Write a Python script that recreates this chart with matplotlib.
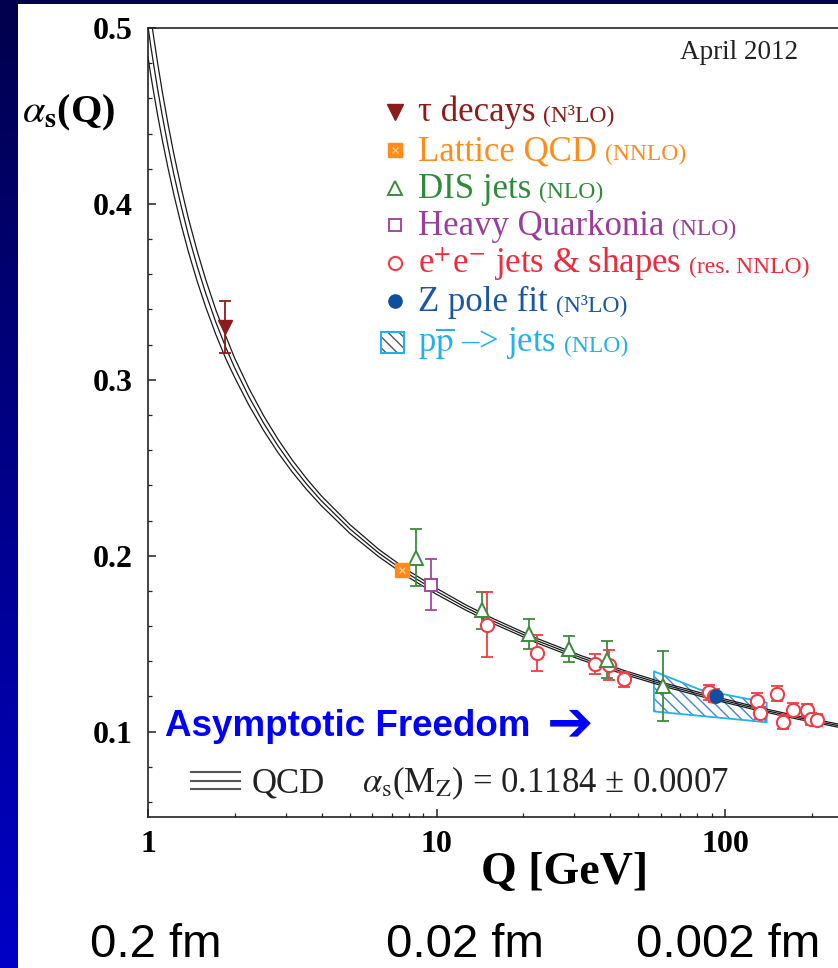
import numpy as np
import matplotlib.pyplot as plt
from matplotlib.patches import Rectangle
from matplotlib.ticker import LogLocator, MultipleLocator, NullFormatter

plt.rcParams['mathtext.fontset'] = 'stix'
plt.rcParams['font.family'] = ['Liberation Serif', 'DejaVu Sans']
plt.rcParams['hatch.linewidth'] = 1.0

W, H = 838, 968

# QCD running coupling (centre line + half width of the band)
qcd_q = [1.000, 1.023, 1.047, 1.084, 1.122, 1.175, 1.230, 1.303, 1.380, 1.479,
         1.585, 1.718, 1.862, 1.995, 2.239, 2.512, 2.818, 3.162, 3.548, 3.981,
         5.012, 6.310, 7.943, 10.0, 12.59, 15.85, 22.39, 31.62, 44.67, 63.10,
         89.13, 125.9, 177.8, 251.2]
qcd_a = [0.5008, 0.4895, 0.4788, 0.4637, 0.4497, 0.4324, 0.4166, 0.3987, 0.3824,
         0.3649, 0.3492, 0.3328, 0.3183, 0.3070, 0.2903, 0.2756, 0.2626, 0.2510,
         0.2407, 0.2314, 0.2152, 0.2015, 0.1899, 0.1798, 0.1707, 0.1626, 0.1516,
         0.1421, 0.1337, 0.1262, 0.1196, 0.1135, 0.1081, 0.1032]
qcd_d = [0.0173, 0.0165, 0.0157, 0.0147, 0.0137, 0.0125, 0.0115, 0.0105, 0.0095,
         0.0086, 0.0078, 0.0070, 0.0064, 0.0055, 0.0048, 0.0042, 0.0038, 0.0034,
         0.0031, 0.0028, 0.0025, 0.0021, 0.0019, 0.0017, 0.0015, 0.0014, 0.0013,
         0.0012, 0.0011, 0.0010, 0.0010, 0.0009, 0.0009, 0.0009]

# measurements
tau_q, tau_a, tau_e = [1.85], [0.330], [0.0148]
lat_q, lat_a = [7.57], [0.1917]
dis_q = [8.49, 14.35, 20.97, 28.86, 38.9, 61.1]
dis_a = [0.199, 0.169, 0.1555, 0.147, 0.141, 0.126]
dis_e = [0.016, 0.0104, 0.0087, 0.0076, 0.0106, 0.020]
hq_q, hq_a, hq_e = [9.55], [0.1836], [0.0147]
ee_q = [15.0, 22.25, 35.4, 39.7, 44.8, 88.2, 91.5, 128.8, 132.2, 151.0, 158.5,
        171.6, 192.0, 198.0, 209.0]
ee_a = [0.1607, 0.1447, 0.1385, 0.1380, 0.1298, 0.1224, 0.1205, 0.1177, 0.1105,
        0.1217, 0.1057, 0.1125, 0.1125, 0.1073, 0.1068]
ee_e = [0.0185, 0.0104, 0.0058, 0.0085, 0.0044, 0.0043, 0.0035, 0.0043, 0.0033,
        0.0045, 0.0040, 0.0038, 0.0034, 0.0033, 0.0033]
z_q, z_a = [93.0], [0.1200]
pp_q = [56.7, 81.9, 120.0, 139.5]
pp_hi = [0.1343, 0.1239, 0.1186, 0.1165]
pp_lo = [0.1115, 0.1090, 0.1064, 0.1053]

x_ticks = [1, 10, 100]
x_labels = ['1', '10', '100']
y_ticks = [0.1, 0.2, 0.3, 0.4, 0.5]
y_labels = ['0.1', '0.2', '0.3', '0.4', '0.5']
dist_labels = ['0.2 fm', '0.02 fm', '0.002 fm']

c_tau = '#8e1b1b'
c_lat = '#ff8c1a'
c_dis = '#3d8b3d'
c_hq = '#a347a3'
c_ee = '#f03c46'
c_z = '#0f4f9f'
c_pp = '#22b0ee'


def fxy(x, y):
    return x / W, 1 - y / H


fig = plt.figure(figsize=(W / 100, H / 100), dpi=100)

# slide background: blue gradient with white panel
bg = fig.add_axes([0, 0, 1, 1], zorder=-10)
grad = np.linspace(0, 1, 256).reshape(-1, 1)
bg.imshow(np.dstack([grad * 0, grad * 0, 0.30 + 0.48 * grad]), aspect='auto',
          extent=[0, W, H, 0])
bg.add_patch(Rectangle((18, 4), W - 18, H - 4, facecolor='white', edgecolor='none'))
bg.set_xlim(0, W)
bg.set_ylim(H, 0)
bg.axis('off')

x_max = 10 ** ((W - 148) / 288.5)
ax = fig.add_axes([148 / W, 151 / H, (W - 148) / W, 789 / H])
ax.set_facecolor('none')
ax.set_xscale('log')
ax.set_xlim(1, x_max)
ax.set_ylim(0.0515, 0.5)

# pp-bar band
ax.fill_between(pp_q, pp_lo, pp_hi, facecolor='none', edgecolor='#3f86d0',
                hatch='\\\\\\', lw=0, zorder=1)
ax.fill_between(pp_q, pp_lo, pp_hi, facecolor='none', edgecolor=c_pp, lw=1.3, zorder=1)

# QCD curve: three lines
qa = np.array(qcd_a)
qd = np.array(qcd_d)
for k in (-1, 0, 1):
    ax.plot(qcd_q, qa + k * qd, color='#1a1a1a', lw=0.9, zorder=2)

eb = dict(fmt='none', elinewidth=1.3, capsize=4, capthick=1.3, zorder=3)
ax.errorbar(tau_q, tau_a, yerr=tau_e, ecolor=c_tau, **eb)
ax.errorbar(dis_q, dis_a, yerr=dis_e, ecolor=c_dis, **eb)
ax.errorbar(hq_q, hq_a, yerr=hq_e, ecolor=c_hq, **eb)
ax.errorbar(ee_q, ee_a, yerr=ee_e, ecolor=c_ee, **eb)

ax.plot(tau_q, tau_a, 'v', color=c_tau, ms=10, zorder=4)
ax.plot(ee_q, ee_a, 'o', mfc='white', mec=c_ee, mew=1.5, ms=9.5, zorder=4)
ax.plot(dis_q, dis_a, '^', mfc='white', mec=c_dis, mew=1.4, ms=10, zorder=4)
ax.plot(hq_q, hq_a, 's', mfc='white', mec=c_hq, mew=1.4, ms=9, zorder=4)
ax.plot(lat_q, lat_a, 's', color=c_lat, ms=10, zorder=4)
ax.plot(lat_q, lat_a, 'x', color='#ffd9b0', ms=4.5, mew=0.8, zorder=5)
ax.plot(z_q, z_a, 'o', color=c_z, ms=9.5, zorder=5)

# axes styling
for s in ['left', 'bottom', 'top']:
    ax.spines[s].set_linewidth(1.2)
    ax.spines[s].set_color('#222222')
ax.spines['right'].set_visible(False)
ax.set_xticks(x_ticks)
ax.set_xticklabels(x_labels)
ax.xaxis.set_minor_locator(LogLocator(base=10, subs=np.arange(2, 10)))
ax.xaxis.set_minor_formatter(NullFormatter())
ax.set_yticks(y_ticks)
ax.set_yticklabels(y_labels)
ax.yaxis.set_minor_locator(MultipleLocator(0.02))
ax.tick_params(which='major', direction='in', length=5.8, width=1.1, color='#222222',
               top=False, right=False, labelsize=23)
ax.tick_params(which='minor', direction='in', length=2.8, width=0.9, color='#222222',
               top=False, right=False)
ax.tick_params(axis='y', pad=11)
ax.tick_params(axis='x', pad=9)
for lab in ax.get_xticklabels() + ax.get_yticklabels():
    lab.set_fontweight('bold')

# axis titles
fig.text(*fxy(22, 122), r'$\alpha_{\mathbf{s}}$(Q)', fontsize=29, fontweight='bold',
         va='baseline', ha='left')
fig.text(*fxy(565, 884), 'Q [GeV]', fontsize=33, fontweight='bold', va='baseline',
         ha='center')
fig.text(*fxy(798, 59), 'April 2012', fontsize=19.5, va='baseline', ha='right',
         color='#222222')

# legend
renderer = fig.canvas.get_renderer()


def legend_text(x, y, big, small, color):
    t = fig.text(*fxy(x, y), big, color=color, fontsize=25, va='baseline', ha='left')
    bb = t.get_window_extent(renderer)
    fig.text((bb.x1 + 8) / W, 1 - y / H, small, color=color, fontsize=17,
             va='baseline', ha='left')


rows = [112, 150, 188, 225, 263, 301, 342]
mx = 395
tf = fig.transFigure
ax.plot(*fxy(mx, rows[0]), 'v', color=c_tau, ms=11.5, transform=tf, clip_on=False)
ax.plot(*fxy(mx, rows[1]), 's', color=c_lat, ms=10, transform=tf, clip_on=False)
ax.plot(*fxy(mx, rows[1]), 'x', color='#ffd9b0', ms=4.5, mew=0.8, transform=tf, clip_on=False)
ax.plot(*fxy(mx, rows[2]), '^', mfc='white', mec=c_dis, mew=1.4, ms=9.5, transform=tf, clip_on=False)
ax.plot(*fxy(mx, rows[3]), 's', mfc='white', mec=c_hq, mew=1.4, ms=9, transform=tf, clip_on=False)
ax.plot(*fxy(mx, rows[4]), 'o', mfc='white', mec=c_ee, mew=1.5, ms=9.5, transform=tf, clip_on=False)
ax.plot(*fxy(mx, rows[5]), 'o', color=c_z, ms=9.5, transform=tf, clip_on=False)
x0, y0 = fxy(381, 353)
fig.add_artist(Rectangle((x0, y0), 23 / W, 21 / H, transform=tf, facecolor='white',
                         edgecolor='#555555', hatch='\\\\\\', lw=0))
fig.add_artist(Rectangle((x0, y0), 23 / W, 21 / H, transform=tf, facecolor='none',
                         edgecolor=c_pp, lw=1.5))

tx = 418
legend_text(tx, rows[0] + 9, '\u03c4 decays', '(N\u00b3LO)', c_tau)
legend_text(tx, rows[1] + 10, 'Lattice QCD', '(NNLO)', c_lat)
legend_text(tx, rows[2] + 10, 'DIS jets', '(NLO)', '#2e8b3a')
legend_text(tx, rows[3] + 10, 'Heavy Quarkonia', '(NLO)', '#9b3d9b')
legend_text(tx, rows[4] + 10, 'e$^{+}$e$^{-}$ jets & shapes', '(res. NNLO)', '#ee2b3b')
legend_text(tx, rows[5] + 10, 'Z pole fit', '(N\u00b3LO)', '#1a56a8')
legend_text(tx, rows[6] + 10, 'p$\\overline{\\mathrm{p}}$ \u2013> jets', '(NLO)', c_pp)

# QCD legend line
for yy in (772, 780.5, 789):
    ax.plot([191 / W, 240 / W], [1 - yy / H] * 2, color='#555555', lw=1.5,
            transform=tf, clip_on=False)
fig.text(*fxy(252, 792), 'QCD', fontsize=25, va='baseline', ha='left', color='#222222')
fig.text(*fxy(362, 792), '$\\alpha_{\\mathrm{s}}$(M$_{\\mathrm{Z}}$) = 0.1184 \u00b1 0.0007',
         fontsize=25, va='baseline', ha='left', color='#222222')

# annotations
fig.text(*fxy(165, 727), 'Asymptotic Freedom', fontsize=26.5, fontweight='bold',
         color='#0000ff', family='Liberation Sans', va='center', ha='left')
fig.text(*fxy(570, 725), '\u2794', fontsize=40, fontweight='bold', color='#0000ff',
         family='DejaVu Sans', va='center', ha='center')

for xc, lab in zip([156, 465, 728], dist_labels):
    fig.text(*fxy(xc, 957), lab, fontsize=34, family='Liberation Sans', va='baseline',
             ha='center', color='black')

fig.savefig('out.png', dpi=100)
